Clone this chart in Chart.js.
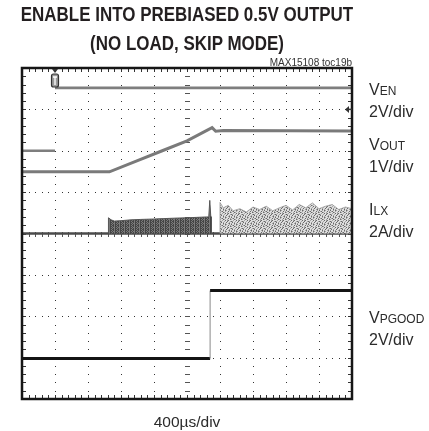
<!DOCTYPE html>
<html><head><meta charset="utf-8">
<script src="https://cdn.jsdelivr.net/npm/chart.js"></script>
<style>
html,body{margin:0;padding:0;background:#fff;}
#wrap{position:relative;width:429px;height:431px;overflow:hidden;font-family:"Liberation Sans",Arial,Helvetica,sans-serif;color:#231f20;}
canvas{position:absolute;left:0;top:0;}
.t{position:absolute;white-space:nowrap;line-height:1;}
.ctr{transform:translateX(-50%) scaleX(0.87);transform-origin:center;}
.lab{font-size:16px;color:#2b2b2b;}
.sub{font-size:12px;}
</style></head><body>
<div id="wrap">
<canvas id="c" width="429" height="431"></canvas>
<div class="t ctr" style="left:187px;top:4.5px;font-size:19.5px;font-weight:bold;">ENABLE INTO PREBIASED 0.5V OUTPUT</div>
<div class="t ctr" style="left:187px;top:33.5px;font-size:19.5px;font-weight:bold;">(NO LOAD, SKIP MODE)</div>
<div class="t" style="right:77px;top:57.5px;font-size:10px;color:#333;">MAX15108 toc19b</div>
<div class="t lab" style="left:369px;top:81.5px;">V<span class="sub">EN</span></div>
<div class="t lab" style="left:369px;top:103.5px;">2V/div</div>
<div class="t lab" style="left:369px;top:136.5px;">V<span class="sub">OUT</span></div>
<div class="t lab" style="left:369px;top:158.5px;">1V/div</div>
<div class="t lab" style="left:369px;top:201.5px;">I<span class="sub">LX</span></div>
<div class="t lab" style="left:369px;top:223.5px;">2A/div</div>
<div class="t lab" style="left:369px;top:309.5px;">V<span class="sub">PGOOD</span></div>
<div class="t lab" style="left:369px;top:331.5px;">2V/div</div>
<div class="t" style="left:187px;top:414px;font-size:15.5px;transform:translateX(-50%);color:#2b2b2b;">400µs/div</div>
</div>
<script>
// Screen coordinates in scope divisions: time 0..10 div (400us/div), level 0..8 div
const timeDivs = [0, 10];
const levelDivs = [0, 8];

// VEN (2V/div)
const enTime  = [0, 1, 1, 1, 10];
const enLevel = [6.0, 6.0, null, 7.52, 7.52];

// VOUT (1V/div)
const voutTime  = [0, 2.65, 3.5, 4.25, 5.0, 5.76, 5.87, 6.1, 10];
const voutLevel = [5.49, 5.49, 5.76, 6.0, 6.24, 6.56, 6.47, 6.49, 6.48];

// ILX (2A/div) baseline and switching-burst envelopes
const ilxTime  = [0, 10];
const ilxLevel = [4.0, 4.0];
const burst1Time = [2.62, 2.62, 2.7, 2.8, 3.0, 3.3, 3.6, 4.0, 4.3, 4.6, 5.0, 5.3, 5.6, 5.66, 5.69, 5.72, 5.74, 5.74];
const burst1Top  = [4.0, 4.38, 4.33, 4.3, 4.31, 4.33, 4.34, 4.35, 4.36, 4.37, 4.38, 4.39, 4.4, 4.4, 4.8, 4.42, 4.4, 4.0];
const burst2Time = [6.0, 6.0, 6.1, 6.25, 6.4, 6.6, 6.8, 7.0, 7.2, 7.4, 7.6, 7.8, 8.0, 8.2, 8.4, 8.6, 8.8, 9.0, 9.2, 9.4, 9.6, 9.8, 10, 10];
const burst2Top  = [4.0, 4.75, 4.62, 4.68, 4.55, 4.6, 4.52, 4.64, 4.58, 4.66, 4.55, 4.62, 4.68, 4.57, 4.7, 4.62, 4.74, 4.6, 4.66, 4.7, 4.58, 4.64, 4.6, 4.0];
const burst2Core = [4.0, 4.42, 4.4, 4.38, 4.36, 4.37, 4.35, 4.38, 4.36, 4.38, 4.37, 4.39, 4.4, 4.38, 4.41, 4.4, 4.42, 4.4, 4.41, 4.42, 4.4, 4.41, 4.4, 4.0];

// VPGOOD (2V/div)
const pgTime  = [0, 5.7, 5.7, 10];
const pgLevel = [0.98, 0.98, 2.62, 2.62];

const pts = (xs, ys) => xs.map((x, i) => ({x, y: ys[i]}));

// texture tiles (style only)
function makePattern(rows, colors) {
  const t = document.createElement('canvas');
  t.width = rows[0].length; t.height = rows.length;
  const g = t.getContext('2d');
  rows.forEach((r, yy) => [...r].forEach((ch, xx) => { g.fillStyle = colors[ch]; g.fillRect(xx, yy, 1, 1); }));
  return document.getElementById('c').getContext('2d').createPattern(t, 'repeat');
}
const speckle = makePattern([
  "#..+.#+..+.",
  ".+#..+..#.+",
  "+..#+..+..#",
  "..+..#.+#..",
  "#+..+..#..+",
  ".#.+..#..+.",
  "+..#.+..+#."
], {'#': '#6a6a6a', '+': '#a3a3a3', '.': '#dedede'});
const streaks = makePattern([
  "##+#+",
  "#+##+",
  "##+#+",
  "#+#++"
], {'#': '#444', '+': '#7a7a7a'});

const scopeGrid = {
  id: 'scopeGrid',
  beforeDatasetsDraw(chart) {
    const {ctx, chartArea: a, scales: {x, y}} = chart;
    ctx.save();
    ctx.fillStyle = '#333';
    for (let i = timeDivs[0] + 1; i < timeDivs[1]; i++) {
      const px = Math.round(x.getPixelForValue(i));
      for (let j = levelDivs[0] * 5; j <= levelDivs[1] * 5; j++) {
        ctx.fillRect(px, Math.round(y.getPixelForValue(j / 5)), 1, 1);
      }
    }
    for (let j = levelDivs[0] + 1; j < levelDivs[1]; j++) {
      const py = Math.round(y.getPixelForValue(j));
      for (let i = timeDivs[0] * 5; i <= timeDivs[1] * 5; i++) {
        ctx.fillRect(Math.round(x.getPixelForValue(i / 5)), py, 1, 1);
      }
    }
    const cx = Math.round(x.getPixelForValue((timeDivs[0] + timeDivs[1]) / 2));
    const cy = Math.round(y.getPixelForValue((levelDivs[0] + levelDivs[1]) / 2));
    ctx.fillStyle = '#555';
    for (let j = levelDivs[0] * 5; j <= levelDivs[1] * 5; j++) {
      ctx.fillRect(cx - 2, Math.round(y.getPixelForValue(j / 5)), 5, 1);
    }
    for (let i = timeDivs[0] * 5; i <= timeDivs[1] * 5; i++) {
      ctx.fillRect(Math.round(x.getPixelForValue(i / 5)), cy - 2, 1, 5);
    }
    ctx.fillStyle = '#333';
    for (let i = timeDivs[0] * 5; i <= timeDivs[1] * 5; i++) {
      const px = Math.round(x.getPixelForValue(i / 5));
      ctx.fillRect(px, a.top, 1, 4);
      ctx.fillRect(px, a.bottom - 4, 1, 4);
    }
    for (let j = levelDivs[0] * 5; j <= levelDivs[1] * 5; j++) {
      const py = Math.round(y.getPixelForValue(j / 5));
      ctx.fillRect(a.left, py, 4, 1);
      ctx.fillRect(a.right - 4, py, 4, 1);
    }
    ctx.restore();
  },
  afterDatasetsDraw(chart) {
    const {ctx, chartArea: a, scales: {x, y}} = chart;
    ctx.save();
    ctx.strokeStyle = '#161616';
    ctx.lineWidth = 2.5;
    ctx.strokeRect(a.left, a.top, a.right - a.left, a.bottom - a.top);
    const tx = x.getPixelForValue(enTime[1]);
    ctx.fillStyle = '#333';
    ctx.beginPath();
    ctx.moveTo(tx - 3, a.top + 1); ctx.lineTo(tx + 3, a.top + 1); ctx.lineTo(tx, a.top + 5);
    ctx.closePath(); ctx.fill();
    ctx.beginPath();
    ctx.roundRect(tx - 3.5, a.top + 6, 7, 13, 2);
    ctx.fillStyle = '#9a9a9a'; ctx.fill();
    ctx.lineWidth = 1.2; ctx.strokeStyle = '#333'; ctx.stroke();
    ctx.strokeStyle = '#fff'; ctx.lineWidth = 1.3;
    ctx.beginPath();
    ctx.moveTo(tx - 2, a.top + 9); ctx.lineTo(tx + 2, a.top + 9);
    ctx.moveTo(tx, a.top + 9); ctx.lineTo(tx, a.top + 17);
    ctx.stroke();
    const ry = y.getPixelForValue(7);
    ctx.fillStyle = '#333';
    ctx.beginPath();
    ctx.moveTo(a.right - 7, ry); ctx.lineTo(a.right - 3, ry - 3.5); ctx.lineTo(a.right - 3, ry + 3.5);
    ctx.closePath(); ctx.fill();
    ctx.fillRect(a.right - 4, ry - 0.75, 4, 1.5);
    ctx.restore();
  }
};

new Chart(document.getElementById('c'), {
  type: 'line',
  data: {
    datasets: [
      {label: 'ILX burst 2', data: pts(burst2Time, burst2Top), borderWidth: 0.8, borderColor: '#9a9a9a',
       backgroundColor: speckle, fill: {value: 4}},
      {label: 'ILX burst 2 core', data: pts(burst2Time, burst2Core), borderWidth: 0, borderColor: 'rgba(0,0,0,0)',
       backgroundColor: 'rgba(90,90,90,0.3)', fill: {value: 4}},
      {label: 'ILX burst 1', data: pts(burst1Time, burst1Top), borderWidth: 1, borderColor: '#555',
       backgroundColor: streaks, fill: {value: 4}},
      {label: 'ILX', data: pts(ilxTime, ilxLevel), borderWidth: 2.5, borderColor: '#4a4a4a'},
      {label: 'VEN', data: pts(enTime, enLevel), borderWidth: 2.6, borderColor: '#7e7e7e', spanGaps: false},
      {label: 'VOUT', data: pts(voutTime, voutLevel), borderWidth: 3, borderColor: '#7a7a7a'},
      {label: 'VPGOOD', data: pts(pgTime, pgLevel), borderWidth: 3, borderColor: '#141414',
       segment: {
         borderWidth: c => c.p0.parsed.x === c.p1.parsed.x ? 1 : 3,
         borderColor: c => c.p0.parsed.x === c.p1.parsed.x ? '#888' : '#141414'
       }}
    ]
  },
  options: {
    responsive: false,
    animation: false,
    devicePixelRatio: 1,
    layout: {padding: {left: 22, right: 77, top: 68, bottom: 32}},
    elements: {point: {radius: 0}, line: {tension: 0, borderCapStyle: 'butt'}},
    scales: {
      x: {type: 'linear', min: timeDivs[0], max: timeDivs[1], display: false},
      y: {type: 'linear', min: levelDivs[0], max: levelDivs[1], display: false}
    },
    plugins: {legend: {display: false}, tooltip: {enabled: false}, title: {display: false}}
  },
  plugins: [scopeGrid]
});
</script>
</body></html>
